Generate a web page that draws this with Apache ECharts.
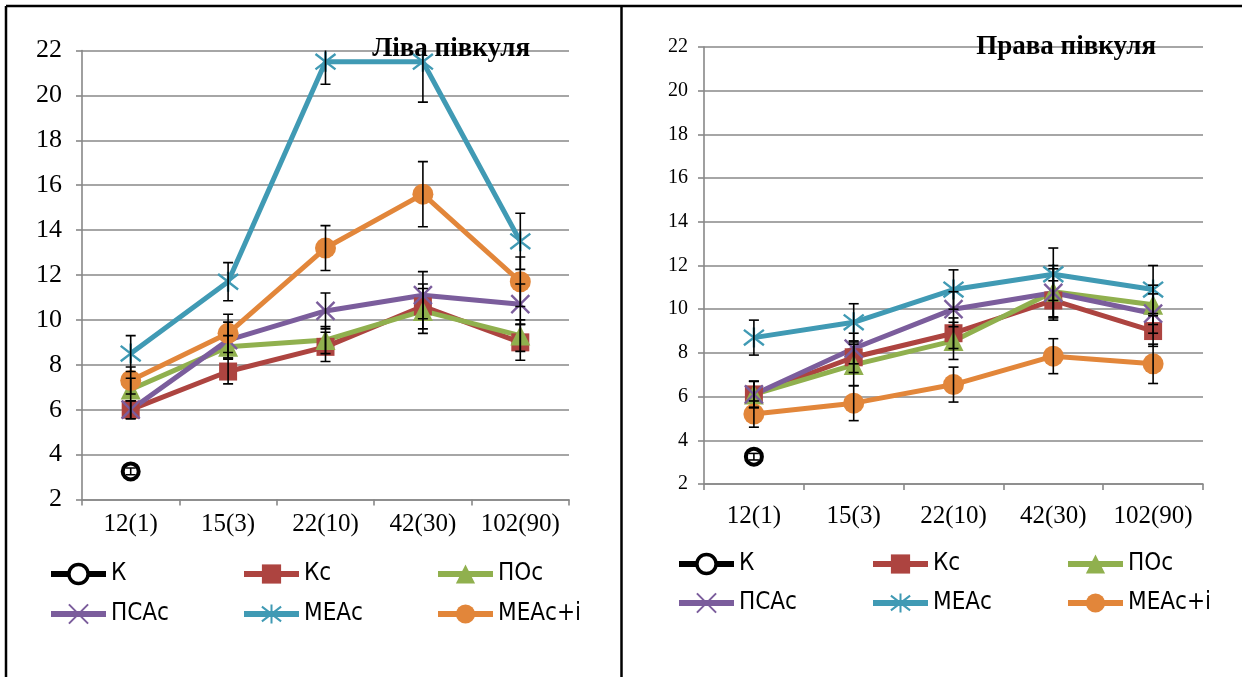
<!DOCTYPE html>
<html>
<head>
<meta charset="utf-8">
<script src="https://cdn.jsdelivr.net/npm/echarts@6/dist/echarts.min.js"></script>
<style>
html,body{margin:0;padding:0;background:#fff;}
#chart{width:1242px;height:677px;}
</style>
</head>
<body>
<div id="chart"></div>
<script>
// ---------- DATA ----------
const categories = ['12(1)', '15(3)', '22(10)', '42(30)', '102(90)'];
const seriesNames = ['К', 'Кс', 'ПОс', 'ПСАс', 'МЕАс', 'МЕАс+і'];
const titleLeft = 'Ліва півкуля';
const titleRight = 'Права півкуля';
const yMin = 2, yMax = 22, yStep = 2;

// Left hemisphere (Ліва півкуля)
const leftK      = [3.25, null, null, null, null];
const leftKs     = [6.0, 7.7, 8.8, 10.6, 9.0];
const leftPOs    = [6.9, 8.8, 9.1, 10.4, 9.3];
const leftPSAs   = [6.0, 9.1, 10.4, 11.1, 10.7];
const leftMEAs   = [8.5, 11.7, 21.5, 21.5, 13.5];
const leftMEAsI  = [7.3, 9.4, 13.2, 15.6, 11.7];
// Left error (±)
const leftKErr     = [0.15, null, null, null, null];
const leftKsErr    = [0.4, 0.55, 0.65, 1.0, 0.8];
const leftPOsErr   = [0.5, 0.5, 0.6, 1.0, 0.7];
const leftPSAsErr  = [0.4, 0.8, 0.8, 1.05, 0.9];
const leftMEAsErr  = [0.8, 0.85, 1.0, 1.8, 1.25];
const leftMEAsIErr = [0.6, 0.85, 1.0, 1.45, 1.1];

// Right hemisphere (Права півкуля)
const rightK     = [3.25, null, null, null, null];
const rightKs    = [6.1, 7.8, 8.9, 10.4, 9.0];
const rightPOs   = [6.1, 7.45, 8.55, 10.8, 10.2];
const rightPSAs  = [6.1, 8.2, 10.0, 10.75, 9.8];
const rightMEAs  = [8.7, 9.4, 10.9, 11.6, 10.9];
const rightMEAsI = [5.2, 5.7, 6.55, 7.85, 7.5];
// Right error (±)
const rightKErr     = [0.15, null, null, null, null];
const rightKsErr    = [0.6, 0.7, 0.7, 0.9, 0.7];
const rightPOsErr   = [0.6, 0.95, 0.85, 1.2, 0.9];
const rightPSAsErr  = [0.6, 0.7, 0.8, 1.1, 0.9];
const rightMEAsErr  = [0.8, 0.85, 0.9, 1.2, 1.1];
const rightMEAsIErr = [0.6, 0.8, 0.8, 0.8, 0.9];

// ---------- STYLE ----------
const colors = ['#000000', '#AD4440', '#90B04E', '#7B5D9C', '#409AB4', '#E2863A'];
const symbols = [
  'circle', 'rect', 'triangle',
  'path://M0,0L10,10M10,0L0,10',
  'path://M0,0L10,10M10,0L0,10M5,-1.5L5,11.5',
  'circle'
];
const symbolSizes = [16, 18, 20, 18, 20, 21];
const serif = "'Liberation Serif','Times New Roman',serif";
const sans = "'Liberation Sans Narrow','DejaVu Sans Condensed','Liberation Sans',sans-serif";
const gridColor = '#888888';

const leftVals = [leftK, leftKs, leftPOs, leftPSAs, leftMEAs, leftMEAsI];
const leftErrs = [leftKErr, leftKsErr, leftPOsErr, leftPSAsErr, leftMEAsErr, leftMEAsIErr];
const rightVals = [rightK, rightKs, rightPOs, rightPSAs, rightMEAs, rightMEAsI];
const rightErrs = [rightKErr, rightKsErr, rightPOsErr, rightPSAsErr, rightMEAsErr, rightMEAsIErr];

function errRender(params, api) {
  const x = api.value(0), v = api.value(1), e = api.value(2);
  const top = api.coord([x, v + e]);
  const bot = api.coord([x, v - e]);
  const hw = 5;
  const st = {stroke: '#000', lineWidth: 1.6};
  return {
    type: 'group',
    children: [
      {type: 'line', shape: {x1: top[0], y1: top[1], x2: bot[0], y2: bot[1]}, style: st},
      {type: 'line', shape: {x1: top[0] - hw, y1: top[1], x2: top[0] + hw, y2: top[1]}, style: st},
      {type: 'line', shape: {x1: bot[0] - hw, y1: bot[1], x2: bot[0] + hw, y2: bot[1]}, style: st}
    ]
  };
}

const series = [];
function addPanel(vals, errs, gi) {
  vals.forEach((arr, i) => {
    const isPath = symbols[i].indexOf('path://') === 0;
    series.push({
      name: seriesNames[i],
      type: 'line',
      xAxisIndex: gi, yAxisIndex: gi,
      data: arr,
      connectNulls: false,
      symbol: symbols[i],
      symbolSize: symbolSizes[i],
      showAllSymbol: true,
      lineStyle: {color: colors[i], width: 5},
      itemStyle: {
        color: i === 0 ? '#ffffff' : colors[i],
        borderColor: colors[i],
        borderWidth: i === 0 ? 4 : (isPath ? 2.4 : 0)
      },
      emphasis: {disabled: true},
      z: 2
    });
  });
  vals.forEach((arr, i) => {
    const d = [];
    arr.forEach((v, k) => { if (v != null && errs[i][k] != null) d.push([k, v, errs[i][k]]); });
    series.push({
      name: 'err' + gi + '_' + i,
      type: 'custom',
      xAxisIndex: gi, yAxisIndex: gi,
      renderItem: errRender,
      data: d,
      clip: true,
      silent: true,
      z: 3
    });
  });
}
addPanel(leftVals, leftErrs, 0);
addPanel(rightVals, rightErrs, 1);

function makeX(gi, fs, margin) {
  return {
    type: 'category', gridIndex: gi, data: categories, boundaryGap: true,
    axisLine: {show: true, lineStyle: {color: gridColor, width: 1.6}},
    axisTick: {show: true, alignWithLabel: false, interval: 0, length: 6, lineStyle: {color: gridColor, width: 1.6}},
    axisLabel: {fontFamily: serif, fontSize: fs, color: '#000', margin: margin, interval: 0, hideOverlap: false},
    splitLine: {show: false}
  };
}
function makeY(gi, fs, margin) {
  return {
    type: 'value', gridIndex: gi, min: yMin, max: yMax, interval: yStep,
    axisLine: {show: true, lineStyle: {color: gridColor, width: 1.6}},
    axisTick: {show: true, length: 6, lineStyle: {color: gridColor, width: 1.6}},
    axisLabel: {fontFamily: serif, fontSize: fs, color: '#000', margin: margin},
    splitLine: {show: true, lineStyle: {color: gridColor, width: 1.6}}
  };
}

// legends: 2 rows x 3 columns per panel
const legends = [];
function addLegend(colXs, rowYs) {
  seriesNames.forEach((n, i) => {
    const r = Math.floor(i / 3), c = i % 3;
    legends.push({
      data: [n],
      left: colXs[c],
      top: rowYs[r] - 11,
      padding: 0,
      itemWidth: 55,
      itemHeight: 24,
      selectedMode: false,
      lineStyle: {width: 6},
      itemStyle: {borderWidth: i === 0 ? 3.5 : (i === 3 || i === 4 ? 2 : 0)},
      textStyle: {fontFamily: sans, fontSize: 24, color: '#000'}
    });
  });
}
addLegend([48, 241, 435], [573, 613]);
addLegend([676, 870, 1065], [563, 602]);

const option = {
  animation: false,
  backgroundColor: '#ffffff',
  title: [
    {text: titleLeft, right: 712, top: 36, padding: 0,
     textStyle: {fontFamily: serif, fontWeight: 'bold', fontSize: 27, color: '#000'}},
    {text: titleRight, right: 86, top: 34, padding: 0,
     textStyle: {fontFamily: serif, fontWeight: 'bold', fontSize: 27, color: '#000'}}
  ],
  legend: legends,
  grid: [
    {left: 82, top: 50.5, width: 487, height: 449},
    {left: 704, top: 47, width: 499, height: 437}
  ],
  xAxis: [makeX(0, 25, 12), makeX(1, 25, 20)],
  yAxis: [makeY(0, 26, 20), makeY(1, 20, 16)],
  series: series,
  graphic: [
    {type: 'line', shape: {x1: 6, y1: 6, x2: 1242, y2: 6}, style: {stroke: '#000', lineWidth: 2.5}},
    {type: 'line', shape: {x1: 6, y1: 6, x2: 6, y2: 677}, style: {stroke: '#000', lineWidth: 2.5}},
    {type: 'line', shape: {x1: 621.5, y1: 6, x2: 621.5, y2: 677}, style: {stroke: '#000', lineWidth: 2.5}}
  ]
};

const chart = echarts.init(document.getElementById('chart'), null, {renderer: 'canvas'});
chart.setOption(option);
</script>
</body>
</html>
